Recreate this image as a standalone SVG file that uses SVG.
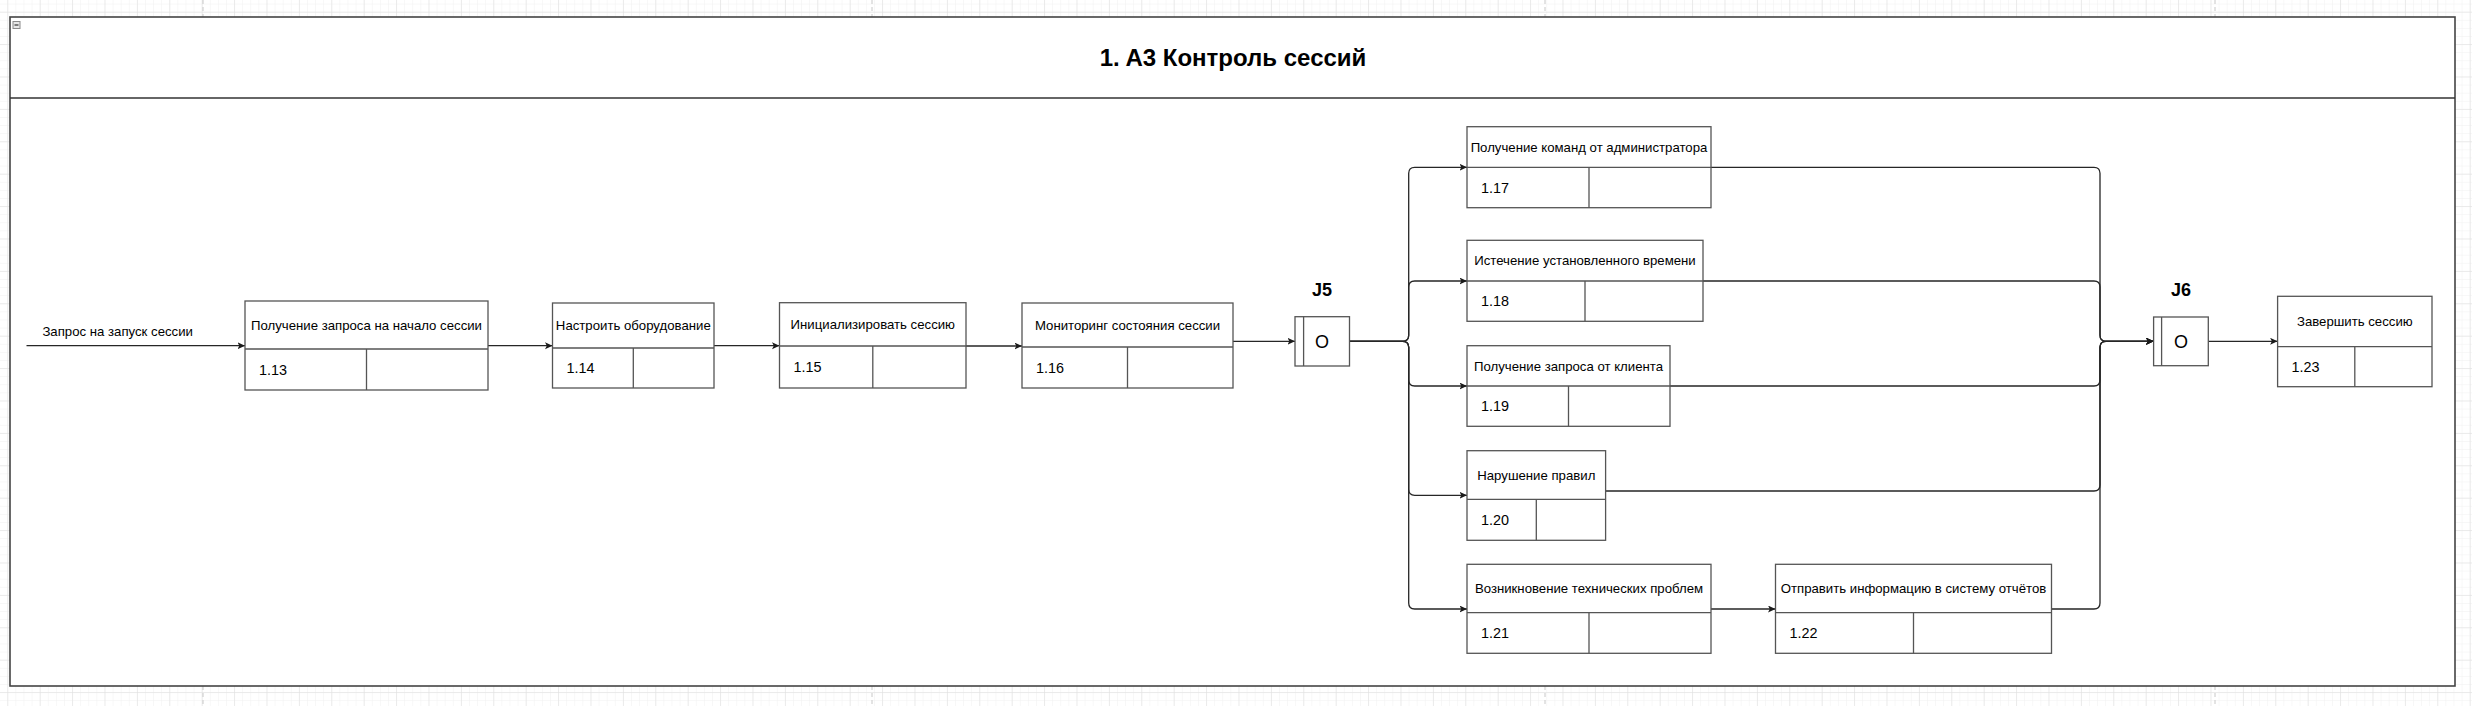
<svg xmlns="http://www.w3.org/2000/svg" width="2472" height="706" viewBox="0 0 2472 706">
<style>
.box{fill:#fff;stroke:#555;stroke-width:1.3}
.div{stroke:#555;stroke-width:1.3;fill:none}
.lbl{font-family:"Liberation Sans",Arial,sans-serif;font-size:13.2px;fill:#000;text-anchor:middle}
.num{font-family:"Liberation Sans",Arial,sans-serif;font-size:14.4px;fill:#000}
.jl{font-family:"Liberation Sans",Arial,sans-serif;font-size:18px;font-weight:bold;fill:#000;text-anchor:middle}
.jo{font-family:"Liberation Sans",Arial,sans-serif;font-size:18px;fill:#000;text-anchor:middle}
.edge{fill:none;stroke:#262626;stroke-width:1.3}
.arr{marker-end:url(#ah)}
</style>
<defs>
<pattern id="minor" x="7.3" y="11.7" width="8.1" height="8.1" patternUnits="userSpaceOnUse">
<path d="M0,0 H8.1 M0,0 V8.1" fill="none" stroke="#f0f0f0" stroke-width="1"/>
</pattern>
<pattern id="major" x="7.3" y="11.7" width="32.4" height="32.4" patternUnits="userSpaceOnUse">
<path d="M0,0 H32.4 M0,0 V32.4" fill="none" stroke="#dedede" stroke-width="1"/>
</pattern>
<marker id="ah" markerUnits="userSpaceOnUse" markerWidth="8" markerHeight="8" refX="7.5" refY="3.5" orient="auto">
<path d="M0,0 L7.5,3.5 L0,7 L1.8,3.5 Z" fill="#1a1a1a"/>
</marker>
</defs>
<g id="background">
<rect x="0" y="0" width="2472" height="706" fill="#fff"/>
<rect x="0" y="0" width="2472" height="706" fill="url(#minor)"/>
<rect x="0" y="0" width="2472" height="706" fill="url(#major)"/>
<g stroke="#c8c8c8" stroke-width="1" stroke-dasharray="4,3">
<line x1="203" y1="0" x2="203" y2="706"/>
<line x1="872" y1="0" x2="872" y2="706"/>
<line x1="1545" y1="0" x2="1545" y2="706"/>
<line x1="2215" y1="0" x2="2215" y2="706"/>
</g>
</g>
<g id="frame">
<rect x="10" y="17" width="2445" height="669" fill="#fff" stroke="#444" stroke-width="1.6"/>
<line x1="10" y1="98" x2="2455" y2="98" stroke="#333" stroke-width="1.3"/>
<rect x="13" y="21.5" width="7" height="7" fill="#e6e6e6" stroke="#8a8a8a" stroke-width="1"/>
<line x1="14.5" y1="25" x2="18.5" y2="25" stroke="#333" stroke-width="1.2"/>
<text x="1233" y="66" font-family="'Liberation Sans',Arial,sans-serif" font-size="24" font-weight="bold" text-anchor="middle" fill="#000">1. A3 Контроль сессий</text>
</g>
<g id="connectors">
<path class="edge arr" d="M26.5,345.7 H245"/>
<text x="42.4" y="335.6" class="lbl" style="text-anchor:start">Запрос на запуск сессии</text>
<path class="edge arr" d="M488,345.7 H552.5"/>
<path class="edge arr" d="M714,345.7 H779.5"/>
<path class="edge arr" d="M966,346 H1022"/>
<path class="edge arr" d="M1233,341.3 H1295"/>
<path class="edge arr" d="M1349.5,341.3 H1402.7 Q1408.7,341.3 1408.7,335.3 V173.3 Q1408.7,167.3 1414.7,167.3 H1467"/>
<path class="edge arr" d="M1349.5,341.3 H1402.7 Q1408.7,341.3 1408.7,335.3 V287 Q1408.7,281 1414.7,281 H1467"/>
<path class="edge arr" d="M1349.5,341.3 H1402.7 Q1408.7,341.3 1408.7,347.3 V380 Q1408.7,386 1414.7,386 H1467"/>
<path class="edge arr" d="M1349.5,341.3 H1402.7 Q1408.7,341.3 1408.7,347.3 V489.3 Q1408.7,495.3 1414.7,495.3 H1467"/>
<path class="edge arr" d="M1349.5,341.3 H1402.7 Q1408.7,341.3 1408.7,347.3 V603 Q1408.7,609 1414.7,609 H1467"/>
<path class="edge arr" d="M1711,609 H1775.5"/>
<path class="edge arr" d="M1711,167.3 H2094 Q2100,167.3 2100,173.3 V335.3 Q2100,341.3 2106,341.3 H2153.6"/>
<path class="edge arr" d="M1703,281 H2094 Q2100,281 2100,287 V335.3 Q2100,341.3 2106,341.3 H2153.6"/>
<path class="edge arr" d="M1670,386 H2094 Q2100,386 2100,380 V347.3 Q2100,341.3 2106,341.3 H2153.6"/>
<path class="edge arr" d="M1605.6,491 H2094 Q2100,491 2100,485 V347.3 Q2100,341.3 2106,341.3 H2153.6"/>
<path class="edge arr" d="M2051.5,609 H2094 Q2100,609 2100,603 V347.3 Q2100,341.3 2106,341.3 H2153.6"/>
<path class="edge arr" d="M2208.3,341.3 H2277.6"/>
</g>
<g id="n113">
<rect class="box" x="245" y="301" width="243" height="89"/>
<path class="div" d="M245,349 H488 M366.5,349 V390"/>
<text class="lbl" x="366.5" y="329.6">Получение запроса на начало сессии</text>
<text class="num" x="259" y="374.7">1.13</text>
</g>
<g id="n114">
<rect class="box" x="552.5" y="303" width="161.5" height="85"/>
<path class="div" d="M552.5,348 H714 M633.3,348 V388"/>
<text class="lbl" x="633.3" y="330.1">Настроить оборудование</text>
<text class="num" x="566.5" y="373.2">1.14</text>
</g>
<g id="n115">
<rect class="box" x="779.5" y="302.7" width="186.5" height="85.3"/>
<path class="div" d="M779.5,346 H966 M872.8,346 V388"/>
<text class="lbl" x="872.8" y="329">Инициализировать сессию</text>
<text class="num" x="793.5" y="372.2">1.15</text>
</g>
<g id="n116">
<rect class="box" x="1022" y="303" width="211" height="85"/>
<path class="div" d="M1022,347 H1233 M1127.5,347 V388"/>
<text class="lbl" x="1127.5" y="329.6">Мониторинг состояния сессии</text>
<text class="num" x="1036" y="372.7">1.16</text>
</g>
<g id="j5">
<text class="jl" x="1322" y="295.5">J5</text>
<rect class="box" x="1295" y="316.7" width="54.5" height="49.3"/>
<line class="div" x1="1303.6" y1="316.7" x2="1303.6" y2="366"/>
<text class="jo" x="1322" y="347.8">O</text>
</g>
<g id="n117">
<rect class="box" x="1467" y="126.7" width="244" height="81"/>
<path class="div" d="M1467,167.3 H1711 M1589,167.3 V207.7"/>
<text class="lbl" x="1589" y="151.6">Получение команд от администратора</text>
<text class="num" x="1481" y="192.7">1.17</text>
</g>
<g id="n118">
<rect class="box" x="1467" y="240.3" width="236" height="81"/>
<path class="div" d="M1467,281 H1703 M1585,281 V321.3"/>
<text class="lbl" x="1585" y="265.3">Истечение установленного времени</text>
<text class="num" x="1481" y="306.4">1.18</text>
</g>
<g id="n119">
<rect class="box" x="1467" y="345.7" width="203" height="80.6"/>
<path class="div" d="M1467,386 H1670 M1568.5,386 V426.3"/>
<text class="lbl" x="1568.5" y="370.5">Получение запроса от клиента</text>
<text class="num" x="1481" y="411.4">1.19</text>
</g>
<g id="n120">
<rect class="box" x="1467" y="450.7" width="138.6" height="89.6"/>
<path class="div" d="M1467,499.3 H1605.6 M1536.3,499.3 V540.3"/>
<text class="lbl" x="1536.3" y="479.6">Нарушение правил</text>
<text class="num" x="1481" y="525">1.20</text>
</g>
<g id="n121">
<rect class="box" x="1467" y="564.3" width="244" height="89"/>
<path class="div" d="M1467,612.7 H1711 M1589,612.7 V653.3"/>
<text class="lbl" x="1589" y="593.1">Возникновение технических проблем</text>
<text class="num" x="1481" y="638.2">1.21</text>
</g>
<g id="n122">
<rect class="box" x="1775.5" y="564.3" width="276" height="89"/>
<path class="div" d="M1775.5,612.7 H2051.5 M1913.5,612.7 V653.3"/>
<text class="lbl" x="1913.5" y="593.1">Отправить информацию в систему отчётов</text>
<text class="num" x="1789.5" y="638.2">1.22</text>
</g>
<g id="j6">
<text class="jl" x="2181" y="295.5">J6</text>
<rect class="box" x="2153.6" y="317" width="54.7" height="48.7"/>
<line class="div" x1="2161.6" y1="317" x2="2161.6" y2="365.7"/>
<text class="jo" x="2181" y="347.8">O</text>
</g>
<g id="n123">
<rect class="box" x="2277.6" y="296.3" width="154.4" height="90.4"/>
<path class="div" d="M2277.6,346.7 H2432 M2354.8,346.7 V386.7"/>
<text class="lbl" x="2354.8" y="326.1">Завершить сессию</text>
<text class="num" x="2291.6" y="371.9">1.23</text>
</g>
</svg>
